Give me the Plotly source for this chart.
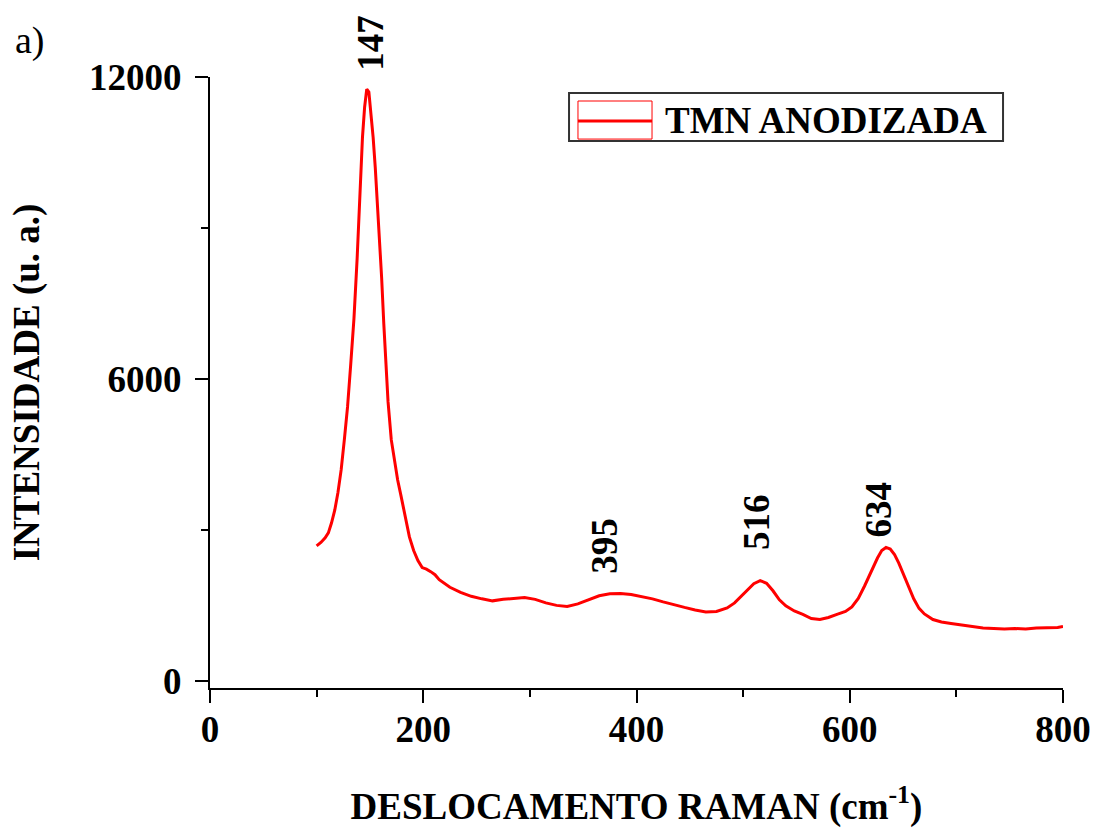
import plotly.graph_objects as go

# Raman spectrum of the anodized TMN sample
raman_shift = [
    100, 104, 108, 111, 114, 117, 120, 123, 126, 129, 132, 135, 138, 141, 143, 145,
    147, 149, 151, 153, 155, 157, 159, 161, 163, 165, 167, 170, 173, 176, 179, 183,
    187, 191, 195, 199, 203, 207, 211, 215, 220, 225, 235, 245, 255, 265, 275, 285,
    295, 305, 315, 325, 335, 345, 355, 365, 375, 385, 395, 405, 415, 425, 435, 445,
    455, 465, 475, 485, 492, 498, 504, 510, 516, 522, 528, 534, 540, 548, 556, 564,
    572, 580, 588, 596, 602, 608, 614, 620, 626, 630, 634, 638, 642, 646, 650, 655,
    660, 665, 670, 678, 686, 695, 705, 715, 725, 735, 745, 755, 765, 775, 785, 795, 800,
]
intensity = [
    2690, 2760, 2850, 2950, 3150, 3400, 3750, 4200, 4800, 5450, 6300, 7200, 8400, 9900, 10800, 11400,
    11760, 11700, 11300, 10800, 10200, 9500, 8800, 8000, 7100, 6250, 5550, 4800, 4350, 4000, 3700, 3300,
    2870, 2600, 2400, 2260, 2230, 2180, 2120, 2020, 1940, 1870, 1770, 1690, 1640, 1600, 1630, 1650,
    1665, 1630, 1560, 1510, 1490, 1540, 1620, 1700, 1740, 1745, 1725, 1690, 1640, 1580, 1520, 1470,
    1420, 1380, 1390, 1460, 1560, 1680, 1820, 1940, 2000, 1950, 1800, 1620, 1500, 1400, 1330, 1250,
    1230, 1270, 1330, 1390, 1480, 1650, 1900, 2180, 2450, 2600, 2660, 2630, 2520, 2350, 2150, 1900,
    1640, 1450, 1340, 1230, 1180, 1150, 1120, 1100, 1060, 1050, 1040, 1050, 1040, 1060, 1060, 1070, 1090,
]

# Labelled band positions (cm-1)
peak_labels = [147, 395, 516, 634]
series_name = "TMN ANODIZADA"

# Axis ticks
x_ticks = [0, 200, 400, 600, 800]
x_minor = [100, 300, 500, 700]
y_ticks = [0, 6000, 12000]
y_tick_text = ["0", "6000", "12000"]
y_minor = [3000, 9000]

FONT = "Liberation Serif, Times New Roman, serif"
RED = "#ff0000"

fig = go.Figure()
fig.add_trace(go.Scatter(
    x=raman_shift, y=intensity, mode="lines",
    line=dict(color=RED, width=3), name=series_name, showlegend=False,
))

# Band labels, rotated, placed just above each band
label_offsets = {147: (3, 46), 395: (-27, 49), 516: (-3, 59), 634: (-8, 38)}
for p in peak_labels:
    # intensity at the nearest sampled shift
    idx = min(range(len(raman_shift)), key=lambda i: abs(raman_shift[i] - p))
    dx, dy = label_offsets[p]
    fig.add_annotation(
        x=p, y=intensity[idx], text=f"<b>{p}</b>", showarrow=False,
        textangle=-90, xanchor="center", yanchor="middle",
        xshift=dx, yshift=dy, font=dict(family=FONT, size=37, color="black"),
    )

# Panel tag
fig.add_annotation(
    xref="paper", yref="paper", x=-0.211, y=1.06, xanchor="center", yanchor="middle",
    text="a)", showarrow=False, font=dict(family=FONT, size=38, color="black"),
)

# Legend box drawn in the Origin style: framed swatch with a line through it
fig.add_shape(type="rect", xref="paper", yref="paper",
              x0=0.4209, x1=0.9297, y0=0.8951, y1=0.9738,
              line=dict(color="#333333", width=2), fillcolor="white", layer="above")
fig.add_shape(type="rect", xref="paper", yref="paper",
              x0=0.4314, x1=0.5182, y0=0.8984, y1=0.9607,
              line=dict(color=RED, width=1), layer="above")
fig.add_shape(type="line", xref="paper", yref="paper",
              x0=0.4314, x1=0.5182, y0=0.9279, y1=0.9279,
              line=dict(color=RED, width=3), layer="above")
fig.add_annotation(
    xref="paper", yref="paper", x=0.5311, y=0.9295, xanchor="left", yanchor="middle",
    text=f"<b>{series_name}</b>", showarrow=False,
    font=dict(family=FONT, size=37, color="black"),
)

fig.update_layout(
    width=1099, height=828,
    margin=dict(l=210, r=36, t=77, b=140),
    paper_bgcolor="white", plot_bgcolor="white",
    font=dict(family=FONT, size=37, color="black"),
    showlegend=False,
)
fig.update_xaxes(
    range=[0, 800], tickvals=x_ticks, automargin=False,
    showline=True, linecolor="black", linewidth=2,
    ticks="outside", ticklen=13, tickwidth=2, tickcolor="black",
    minor=dict(tickvals=x_minor, ticks="outside", ticklen=7,
               tickwidth=2, tickcolor="black"),
    showgrid=False, zeroline=False,
    tickfont=dict(family=FONT, size=37, weight="bold"),
    ticklabelstandoff=-5,
    title=dict(text="DESLOCAMENTO RAMAN (cm<sup>-1</sup>)",
               font=dict(family=FONT, size=37, weight="bold"), standoff=44),
)
fig.update_yaxes(
    range=[-130, 12000], tickvals=y_ticks, ticktext=y_tick_text, automargin=False,
    showline=True, linecolor="black", linewidth=2,
    ticks="outside", ticklen=13, tickwidth=2, tickcolor="black",
    minor=dict(tickvals=y_minor, ticks="outside", ticklen=7,
               tickwidth=2, tickcolor="black"),
    showgrid=False, zeroline=False,
    tickfont=dict(family=FONT, size=37, weight="bold"),
    ticklabelstandoff=6,
    title=dict(text="INTENSIDADE (u. a.)",
               font=dict(family=FONT, size=37, weight="bold"), standoff=38),
)

fig.write_html("out.html")
